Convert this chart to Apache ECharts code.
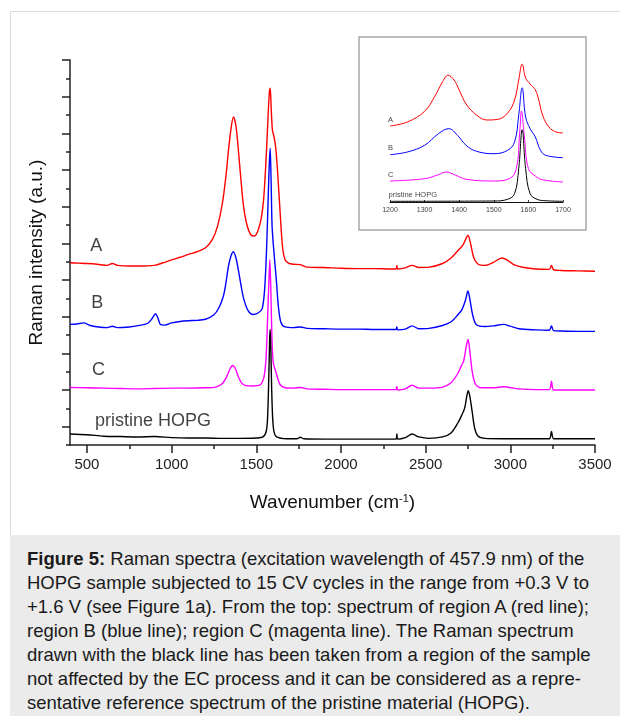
<!DOCTYPE html>
<html>
<head>
<meta charset="utf-8">
<script src="https://cdn.jsdelivr.net/npm/echarts@6/dist/echarts.min.js"></script>
<style>
  body { margin: 0; background: #fff; width: 620px; height: 716px; position: relative; overflow: hidden;
         font-family: "Liberation Sans", Arial, sans-serif; }
  #panel { position: absolute; left: 10px; top: 11px; width: 610px; height: 524px;
           border-left: 1px solid #dcdcdc; border-top: 1px solid #dcdcdc; }
  #chart { position: absolute; left: 0; top: 0; width: 620px; height: 535px; }
  #caption { position: absolute; left: 10px; top: 535px; width: 610px; height: 181px; background: #ebebeb;
             box-sizing: border-box; padding: 12px 0 0 17px; font-size: 18.5px; line-height: 24px;
             color: #1a1a1a; white-space: nowrap; }
</style>
</head>
<body>
<div id="panel"></div>
<div id="chart"></div>
<div id="caption">
<b>Figure 5:</b> Raman spectra (excitation wavelength of 457.9 nm) of the<br>
HOPG sample subjected to 15 CV cycles in the range from +0.3 V to<br>
+1.6 V (see Figure 1a). From the top: spectrum of region A (red line);<br>
region B (blue line); region C (magenta line). The Raman spectrum<br>
drawn with the black line has been taken from a region of the sample<br>
not affected by the EC process and it can be considered as a repre-<br>
sentative reference spectrum of the pristine material (HOPG).
</div>
<script>
// main spectra, [wavenumber, offset intensity]
var specA = [[400,4.97],[450,4.96],[500,4.95],[560,4.93],[620,4.9],[650,4.95],[680,4.9],[750,4.88],[800,4.88],[900,4.9],[950,4.97],[1000,5.05],[1050,5.12],[1100,5.2],[1150,5.27],[1200,5.38],[1240,5.6],[1270,5.95],[1300,6.6],[1320,7.3],[1335,8.0],[1350,8.6],[1365,8.95],[1380,8.7],[1395,8.0],[1410,7.2],[1425,6.5],[1445,6.0],[1470,5.72],[1490,5.7],[1510,5.85],[1530,6.2],[1545,6.8],[1560,8.0],[1570,9.0],[1577,9.6],[1582,9.73],[1588,9.2],[1595,8.6],[1605,8.4],[1615,8.1],[1625,7.5],[1640,6.4],[1655,5.4],[1670,5.05],[1690,4.96],[1720,4.93],[1760,4.92],[1800,4.85],[1900,4.84],[2000,4.82],[2100,4.81],[2200,4.81],[2300,4.8],[2325,4.8],[2330,4.9],[2335,4.8],[2380,4.83],[2420,4.9],[2460,4.84],[2520,4.85],[2600,4.95],[2650,5.1],[2690,5.3],[2720,5.45],[2740,5.65],[2750,5.72],[2765,5.5],[2785,5.1],[2810,4.93],[2850,4.9],[2900,4.98],[2950,5.1],[2980,5.05],[3020,4.92],[3080,4.84],[3150,4.8],[3230,4.79],[3243,4.9],[3255,4.78],[3300,4.76],[3400,4.75],[3500,4.74]];
var specB = [[400,3.29],[440,3.3],[480,3.33],[520,3.26],[580,3.21],[620,3.2],[650,3.24],[680,3.2],[750,3.22],[820,3.27],[860,3.32],[885,3.45],[905,3.58],[920,3.45],[935,3.28],[960,3.27],[1000,3.33],[1050,3.37],[1100,3.39],[1150,3.4],[1200,3.43],[1250,3.55],[1280,3.75],[1305,4.05],[1320,4.4],[1335,4.86],[1350,5.15],[1365,5.27],[1380,5.1],[1395,4.75],[1410,4.35],[1425,4.0],[1450,3.68],[1480,3.56],[1510,3.6],[1535,3.72],[1550,4.3],[1562,5.5],[1570,6.7],[1577,7.7],[1582,8.09],[1587,7.3],[1593,6.0],[1600,5.5],[1610,4.95],[1620,4.4],[1630,3.8],[1645,3.35],[1670,3.22],[1720,3.2],[1760,3.22],[1800,3.18],[1900,3.17],[2000,3.16],[2100,3.16],[2200,3.15],[2300,3.15],[2325,3.15],[2330,3.22],[2335,3.14],[2380,3.16],[2420,3.25],[2460,3.17],[2520,3.18],[2600,3.26],[2650,3.36],[2690,3.55],[2715,3.7],[2735,3.95],[2750,4.2],[2762,3.95],[2780,3.5],[2800,3.28],[2850,3.23],[2900,3.25],[2960,3.29],[3000,3.24],[3050,3.17],[3150,3.14],[3230,3.13],[3243,3.25],[3255,3.12],[3300,3.11],[3400,3.1],[3500,3.1]];
var specC = [[400,1.57],[500,1.56],[600,1.55],[700,1.54],[800,1.53],[900,1.54],[1000,1.55],[1100,1.55],[1200,1.56],[1260,1.58],[1300,1.68],[1325,1.86],[1345,2.08],[1360,2.17],[1375,2.1],[1395,1.85],[1415,1.68],[1440,1.62],[1480,1.61],[1520,1.63],[1545,1.85],[1558,2.4],[1567,3.5],[1574,4.4],[1580,5.05],[1586,4.2],[1592,3.0],[1600,2.25],[1612,2.05],[1625,1.85],[1640,1.65],[1670,1.56],[1720,1.55],[1760,1.57],[1800,1.53],[1900,1.52],[2000,1.51],[2100,1.51],[2200,1.51],[2300,1.51],[2325,1.51],[2330,1.6],[2335,1.5],[2380,1.53],[2420,1.63],[2460,1.55],[2520,1.55],[2600,1.58],[2650,1.7],[2690,1.95],[2710,2.15],[2725,2.3],[2740,2.7],[2750,2.88],[2760,2.6],[2775,2.0],[2795,1.65],[2830,1.56],[2900,1.56],[2960,1.59],[3050,1.53],[3150,1.51],[3230,1.51],[3243,1.74],[3255,1.5],[3300,1.5],[3400,1.5],[3500,1.5]];
var specHOPG = [[400,0.3],[500,0.28],[600,0.24],[700,0.23],[800,0.22],[900,0.23],[1000,0.2],[1100,0.19],[1200,0.19],[1300,0.18],[1400,0.18],[1500,0.19],[1540,0.22],[1560,0.4],[1568,0.9],[1574,1.9],[1579,2.9],[1582,3.15],[1586,2.6],[1591,1.5],[1597,0.7],[1605,0.35],[1620,0.22],[1680,0.17],[1740,0.17],[1760,0.21],[1780,0.17],[1900,0.16],[2000,0.16],[2100,0.16],[2200,0.16],[2300,0.16],[2325,0.16],[2330,0.3],[2335,0.16],[2380,0.2],[2420,0.3],[2460,0.22],[2520,0.18],[2600,0.22],[2650,0.33],[2690,0.6],[2710,0.78],[2730,1.0],[2745,1.38],[2752,1.48],[2762,1.3],[2775,0.9],[2790,0.45],[2810,0.24],[2850,0.18],[2950,0.17],[3050,0.17],[3150,0.17],[3230,0.17],[3243,0.37],[3255,0.17],[3300,0.17],[3400,0.17],[3500,0.17]];

// inset, 1200-1700 cm-1
var insetA = [[1200,7.6],[1250,8.0],[1300,9.07],[1330,10.6],[1350,11.9],[1368,12.67],[1385,12.2],[1400,11.2],[1420,9.8],[1450,8.7],[1480,8.2],[1510,8.25],[1540,8.9],[1560,10.2],[1572,12.2],[1582,13.8],[1592,12.4],[1605,11.8],[1620,11.2],[1630,10.2],[1640,8.8],[1655,7.7],[1675,7.07],[1700,6.9]];
var insetB = [[1200,4.73],[1250,5.0],[1300,5.67],[1340,6.83],[1370,7.33],[1395,6.67],[1420,5.67],[1450,5.07],[1500,4.83],[1540,5.17],[1560,6.0],[1572,8.67],[1582,11.43],[1592,8.5],[1605,7.33],[1620,6.5],[1635,5.17],[1650,4.67],[1700,4.43]];
var insetC = [[1200,2.1],[1300,2.33],[1340,2.73],[1362,3.0],[1390,2.67],[1420,2.27],[1500,2.1],[1545,2.33],[1565,3.33],[1575,7.0],[1580,9.1],[1588,6.67],[1600,3.33],[1620,2.6],[1640,2.23],[1700,2.0]];
var insetHOPG = [[1200,0.07],[1500,0.1],[1540,0.27],[1560,0.83],[1572,3.33],[1582,7.23],[1592,3.33],[1605,0.83],[1625,0.27],[1650,0.13],[1700,0.07]];

var mainLabels = [['A', 520, 5.43], ['B', 525, 3.87], ['C', 530, 2.05], ['pristine HOPG', 548, 0.65]];
var insetLabels = [['A', 1194, 8.17], ['B', 1194, 5.44], ['C', 1194, 2.7], ['pristine HOPG', 1196, 0.67]];

var xMajorTicks = [500, 1000, 1500, 2000, 2500, 3000, 3500];
var xMinorTicks = [750, 1250, 1750, 2250, 2750, 3250];
var yMajorTicks = [0.5, 1.5, 2.5, 3.5, 4.5, 5.5, 6.5, 7.5, 8.5, 9.5, 10.5];
var yMinorTicks = [0, 1, 2, 3, 4, 5, 6, 7, 8, 9, 10];

var colors = ['#ff0000', '#0000ff', '#ff00ff', '#000000'];
var font = '"Liberation Sans", Arial, sans-serif';

var chart = echarts.init(document.getElementById('chart'));

function line(data, color, xi, w, sm) {
    return {
        type: 'line', data: data, xAxisIndex: xi, yAxisIndex: xi,
        showSymbol: false, smooth: sm,
        lineStyle: { color: color, width: w }, silent: true
    };
}
function labels(list, xi, size) {
    return {
        type: 'scatter', xAxisIndex: xi, yAxisIndex: xi, symbolSize: 0, clip: false, silent: true,
        data: list.map(function (d) { return { name: d[0], value: [d[1], d[2]] }; }),
        label: { show: true, position: 'right', distance: 0, formatter: '{b}',
                 fontSize: size, color: '#111', fontFamily: font }
    };
}
function plain(v) { return String(v); }

var axisLine = { lineStyle: { color: '#222', width: 1.5 } };

chart.setOption({
    animation: false,
    grid: [
        { left: 70, right: 25, top: 60, bottom: 90 },
        { left: 390, right: 57, top: 42, bottom: 333 }
    ],
    graphic: [{
        type: 'rect', z: -10, shape: { x: 359, y: 37, width: 227, height: 193 },
        style: { fill: 'none', stroke: '#a8a8a8', lineWidth: 1.5 }
    }],
    xAxis: [
        { type: 'value', gridIndex: 0, position: 'bottom', min: 400, max: 3500, axisLine: axisLine, splitLine: { show: false },
          axisTick: { customValues: xMajorTicks, length: 8, lineStyle: { color: '#222', width: 1.5 } },
          axisLabel: { customValues: xMajorTicks, formatter: plain, fontSize: 15, color: '#222', fontFamily: font, margin: 12 },
          name: '{a|Wavenumber (cm}{s|-1}{a|)}', nameLocation: 'middle', nameGap: 48,
          nameTextStyle: { rich: { a: { fontSize: 19, color: '#111', fontFamily: font },
                                   s: { fontSize: 11, color: '#111', fontFamily: font, verticalAlign: 'top' } } } },
        { type: 'value', gridIndex: 0, position: 'bottom', min: 400, max: 3500, axisLine: { show: false }, splitLine: { show: false },
          axisTick: { customValues: xMinorTicks, length: 4, lineStyle: { color: '#222', width: 1.5 } },
          axisLabel: { show: false } },
        { type: 'value', gridIndex: 1, position: 'bottom', min: 1200, max: 1700, interval: 100, splitLine: { show: false },
          axisLine: { lineStyle: { color: '#111', width: 1 } },
          axisTick: { inside: true, length: 2, lineStyle: { color: '#111', width: 0.8 } },
          axisLabel: { formatter: plain, fontSize: 7, color: '#444', fontFamily: font, margin: 5 } }
    ],
    yAxis: [
        { type: 'value', gridIndex: 0, position: 'left', min: 0, max: 10.5, axisLine: axisLine, splitLine: { show: false },
          axisTick: { customValues: yMajorTicks, length: 8, lineStyle: { color: '#222', width: 1.5 } },
          axisLabel: { show: false },
          name: 'Raman intensity (a.u.)', nameLocation: 'middle', nameGap: 24,
          nameTextStyle: { fontSize: 19, color: '#111', fontFamily: font } },
        { type: 'value', gridIndex: 0, position: 'left', min: 0, max: 10.5, axisLine: { show: false }, splitLine: { show: false },
          axisTick: { customValues: yMinorTicks, length: 4, lineStyle: { color: '#222', width: 1.5 } },
          axisLabel: { show: false } },
        { type: 'value', gridIndex: 1, min: 0, max: 16, show: false }
    ],
    series: [
        line(specA, colors[0], 0, 1.4, 0.3),
        line(specB, colors[1], 0, 1.4, 0.3),
        line(specC, colors[2], 0, 1.4, 0.3),
        line(specHOPG, colors[3], 0, 1.4, 0.3),
        labels(mainLabels, 0, 18),
        line(insetA, colors[0], 2, 1, 0.4),
        line(insetB, colors[1], 2, 1, 0.4),
        line(insetC, colors[2], 2, 1, 0.4),
        line(insetHOPG, colors[3], 2, 1, 0.4),
        labels(insetLabels, 2, 7.5)
    ]
});
</script>
</body>
</html>
